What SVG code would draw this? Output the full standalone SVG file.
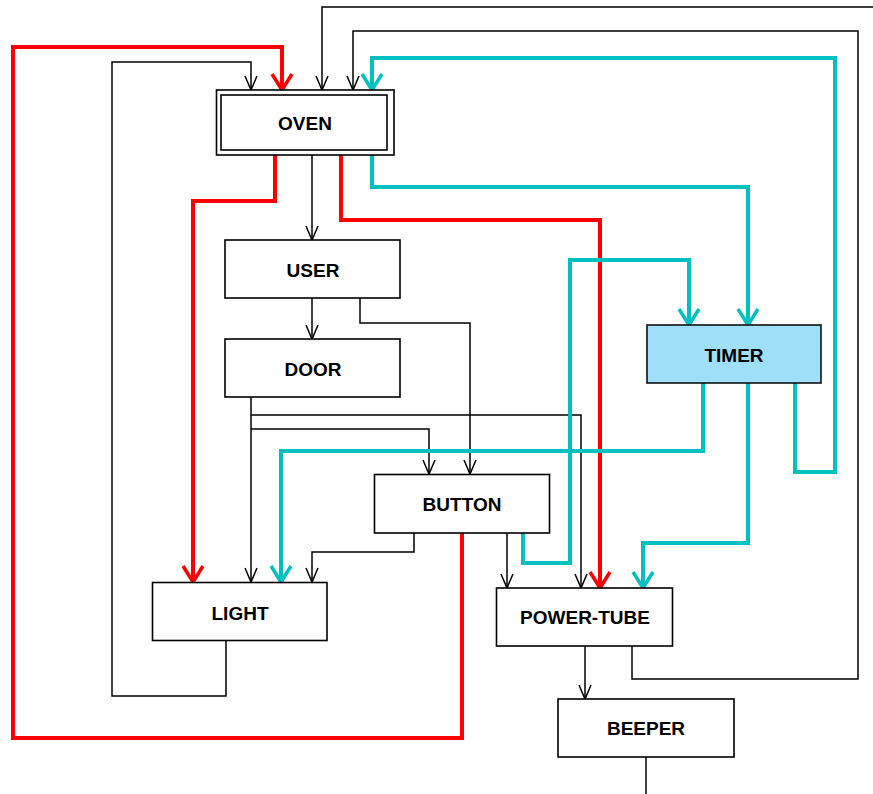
<svg xmlns="http://www.w3.org/2000/svg" width="873" height="794" viewBox="0 0 873 794">
<style>
.box{fill:#fff;stroke:#000;stroke-width:1.6}
.lbl{font-family:"Liberation Sans",Arial,sans-serif;font-weight:bold;font-size:19px;text-anchor:middle;fill:#000}
.k{fill:none;stroke:#000;stroke-width:1.5}
.r{fill:none;stroke:#ff0000;stroke-width:4}
.c{fill:none;stroke:#00c0c0;stroke-width:4}
</style>
<defs>
<marker id="ak" markerUnits="userSpaceOnUse" markerWidth="30" markerHeight="30" refX="0" refY="0" orient="auto" overflow="visible">
<path d="M-14,-6 L0,0 L-14,6" fill="none" stroke="#000" stroke-width="1.5"/>
</marker>
<marker id="ar" markerUnits="userSpaceOnUse" markerWidth="40" markerHeight="40" refX="0" refY="0" orient="auto" overflow="visible">
<path d="M-16,-10 L0,0 L-16,10" fill="none" stroke="#ff0000" stroke-width="3.5" stroke-linejoin="round"/>
</marker>
<marker id="ac" markerUnits="userSpaceOnUse" markerWidth="40" markerHeight="40" refX="0" refY="0" orient="auto" overflow="visible">
<path d="M-16,-10 L0,0 L-16,10" fill="none" stroke="#00c0c0" stroke-width="3.5" stroke-linejoin="round"/>
</marker>
</defs>
<g id="connectors">
<path class="k" d="M226,641 V696 H112 V62 H251 V90" marker-end="url(#ak)"/>
<path class="k" d="M873,7 H322 V90" marker-end="url(#ak)"/>
<path class="k" d="M632,646 V679 H858 V31 H353 V90" marker-end="url(#ak)"/>
<path class="k" d="M312,155 V240" marker-end="url(#ak)"/>
<path class="k" d="M312,298 V339" marker-end="url(#ak)"/>
<path class="k" d="M360,298 V323 H470 V474" marker-end="url(#ak)"/>
<path class="k" d="M251,397 V582" marker-end="url(#ak)"/>
<path class="k" d="M251,415 H581 V588" marker-end="url(#ak)"/>
<path class="k" d="M251,429 H429 V474" marker-end="url(#ak)"/>
<path class="k" d="M414,533 V552 H312 V582" marker-end="url(#ak)"/>
<path class="k" d="M507,533 V588" marker-end="url(#ak)"/>
<path class="k" d="M585,646 V699" marker-end="url(#ak)"/>
<path class="k" d="M646,757 V794"/>
<path class="r" d="M462,533 V738 H13 V47 H282 V90" marker-end="url(#ar)"/>
<path class="r" d="M275,155 V201 H193 V582" marker-end="url(#ar)"/>
<path class="r" d="M341,155 V220 H600 V588" marker-end="url(#ar)"/>
<path class="c" d="M795,383 V472 H835 V58 H372 V90" marker-end="url(#ac)"/>
<path class="c" d="M372,155 V187 H748 V325" marker-end="url(#ac)"/>
<path class="c" d="M523,533 V563 H570 V260 H689 V325" marker-end="url(#ac)"/>
<path class="c" d="M703,383 V451 H281 V582" marker-end="url(#ac)"/>
<path class="c" d="M748,383 V543 H643 V588" marker-end="url(#ac)"/>
</g>
<g id="oven">
<rect class="box" x="216.5" y="90" width="177.5" height="65"/>
<rect class="box" x="221" y="95" width="166" height="55"/>
<text class="lbl" x="305" y="130">OVEN</text>
</g>
<g id="user">
<rect class="box" x="225" y="240" width="175" height="58"/>
<text class="lbl" x="313" y="277">USER</text>
</g>
<g id="door">
<rect class="box" x="225" y="339" width="175" height="58"/>
<text class="lbl" x="313" y="376">DOOR</text>
</g>
<g id="timer">
<rect x="647" y="325" width="174" height="58" fill="#a0dffa" stroke="#111" stroke-width="1.6"/>
<text class="lbl" x="734" y="362">TIMER</text>
</g>
<g id="button">
<rect class="box" x="374.5" y="474.5" width="175" height="58.5"/>
<text class="lbl" x="462" y="511">BUTTON</text>
</g>
<g id="light">
<rect class="box" x="152.5" y="582.5" width="174.5" height="58"/>
<text class="lbl" x="240" y="620">LIGHT</text>
</g>
<g id="power-tube">
<rect class="box" x="496.5" y="588" width="176" height="58"/>
<text class="lbl" x="585" y="624">POWER-TUBE</text>
</g>
<g id="beeper">
<rect class="box" x="558" y="699" width="176" height="58"/>
<text class="lbl" x="646" y="735">BEEPER</text>
</g>
</svg>
